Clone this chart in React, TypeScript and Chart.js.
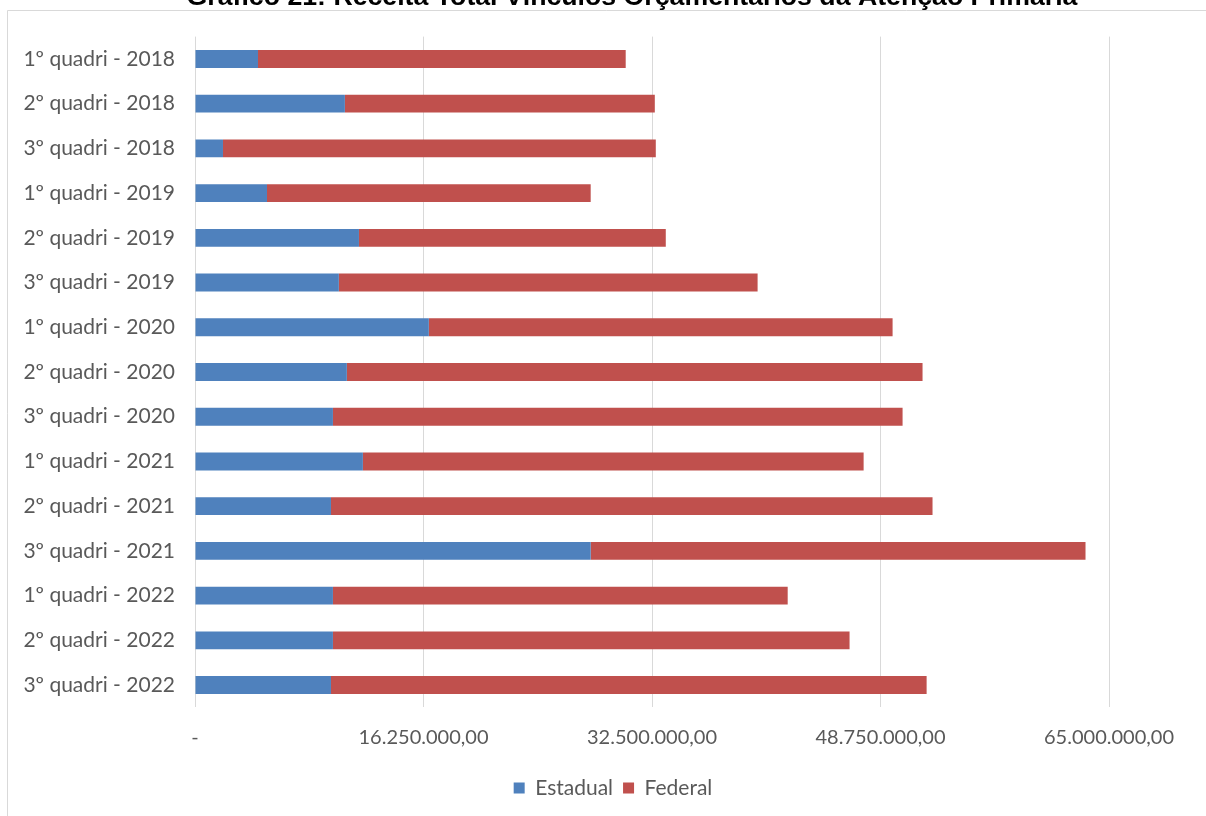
import React, { useEffect, useRef } from "react";
import { Chart, registerables } from "chart.js";

Chart.register(...registerables);

const TITLE = "Gráfico 21: Receita Total Vínculos Orçamentários da Atenção Primária";

const categories = [
  "1º quadri - 2018",
  "2º quadri - 2018",
  "3º quadri - 2018",
  "1º quadri - 2019",
  "2º quadri - 2019",
  "3º quadri - 2019",
  "1º quadri - 2020",
  "2º quadri - 2020",
  "3º quadri - 2020",
  "1º quadri - 2021",
  "2º quadri - 2021",
  "3º quadri - 2021",
  "1º quadri - 2022",
  "2º quadri - 2022",
  "3º quadri - 2022",
];

const estadual = [
  4480000, 10660000, 1990000, 5120000, 11660000, 10230000, 16630000, 10800000,
  9810000, 11940000, 9670000, 28140000, 9810000, 9810000, 9670000,
];

const federal = [
  26150000, 22040000, 30780000, 23020000, 21820000, 29780000, 32980000, 40940000,
  40510000, 35610000, 42780000, 35190000, 32340000, 36740000, 42360000,
];

const xTicks = [0, 16250000, 32500000, 48750000, 65000000];

const BLUE = "#4f81bd";
const RED = "#c0504d";
const GRID = "#d9d9d9";
const TEXT = "#595959";
const FONT = "Lato, 'Noto Sans', sans-serif";

function formatBR(v: number): string {
  if (v === 0) return "-";
  const intPart = Math.floor(v).toString();
  const withDots = intPart.replace(/\B(?=(\d{3})+(?!\d))/g, ".");
  return withDots + ",00";
}

const framePlugin = {
  id: "frameAndTitle",
  beforeDraw(chart: any) {
    const ctx = chart.ctx as CanvasRenderingContext2D;
    ctx.save();
    ctx.fillStyle = "#ffffff";
    ctx.fillRect(0, 0, chart.width, chart.height);
    ctx.strokeStyle = GRID;
    ctx.lineWidth = 1;
    ctx.beginPath();
    ctx.moveTo(7.5, chart.height);
    ctx.lineTo(7.5, 10.5);
    ctx.lineTo(chart.width, 10.5);
    ctx.stroke();
    ctx.fillStyle = "#000000";
    ctx.font = "bold 26.7px 'Liberation Sans', Arial, sans-serif";
    ctx.textAlign = "center";
    ctx.textBaseline = "alphabetic";
    ctx.fillText(TITLE, 632, 5);
    ctx.restore();
  },
};

export default function App() {
  const ref = useRef<HTMLCanvasElement | null>(null);

  useEffect(() => {
    document.body.style.margin = "0";
    const canvas = ref.current;
    if (!canvas) return;
    const chart = new Chart(canvas, {
      type: "bar",
      data: {
        labels: categories,
        datasets: [
          {
            label: "Estadual",
            data: estadual,
            backgroundColor: BLUE,
            barPercentage: 0.4,
            categoryPercentage: 1,
          },
          {
            label: "Federal",
            data: federal,
            backgroundColor: RED,
            barPercentage: 0.4,
            categoryPercentage: 1,
          },
        ],
      },
      options: {
        indexAxis: "y",
        animation: false,
        responsive: false,
        maintainAspectRatio: false,
        layout: { padding: { top: 36.6, left: 0, right: -20, bottom: 7.5 } },
        plugins: {
          title: { display: false },
          tooltip: { enabled: false },
          legend: {
            display: true,
            position: "bottom",
            labels: {
              boxWidth: 11,
              boxHeight: 11,
              padding: 10,
              color: TEXT,
              font: { family: FONT, size: 21 },
            },
          },
        },
        scales: {
          x: {
            stacked: true,
            min: 0,
            max: 65000000,
            afterBuildTicks: (scale: any) => {
              scale.ticks = xTicks.map((v) => ({ value: v }));
            },
            afterFit: (scale: any) => {
              scale.height = 60.1;
              scale.paddingRight = 97;
            },
            grid: { color: GRID, drawTicks: false, lineWidth: 1 },
            border: { display: false },
            ticks: {
              padding: 18,
              color: TEXT,
              font: { family: FONT, size: 20 },
              maxRotation: 0,
              callback: (v: any) => formatBR(Number(v)),
            },
          },
          y: {
            stacked: true,
            afterFit: (scale: any) => {
              scale.width = 195;
            },
            grid: { display: false, drawTicks: false },
            border: { display: false },
            ticks: {
              padding: 20,
              color: TEXT,
              font: { family: FONT, size: 21 },
              autoSkip: false,
            },
          },
        },
      },
      plugins: [framePlugin],
    } as any);
    return () => chart.destroy();
  }, []);

  return (
    <div style={{ position: "relative", width: 1206, height: 816 }}>
      <canvas ref={ref} width={1206} height={816} style={{ display: "block" }} />
    </div>
  );
}
